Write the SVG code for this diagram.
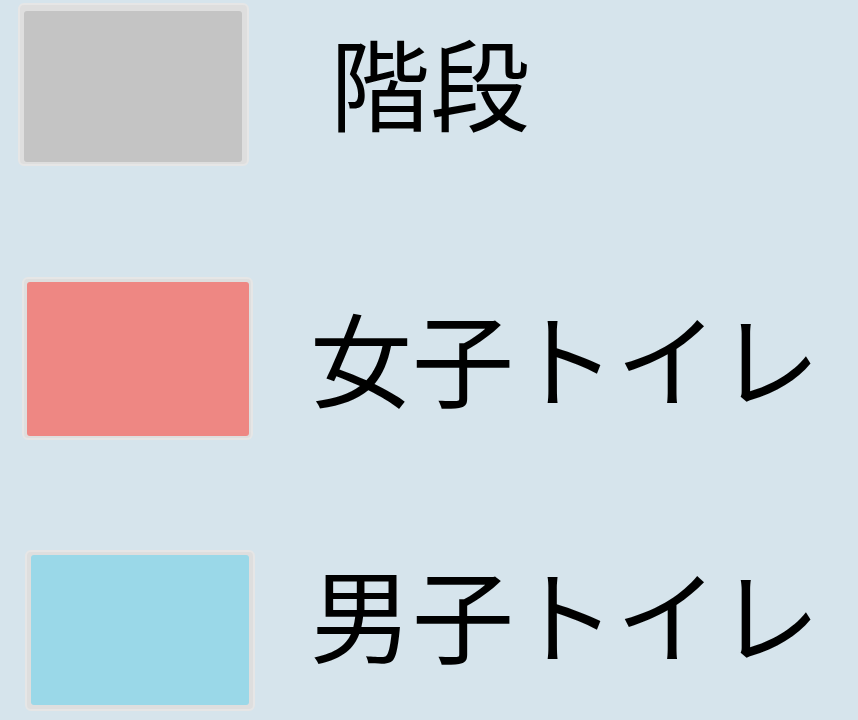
<svg xmlns="http://www.w3.org/2000/svg" width="858" height="720" viewBox="0 0 858 720">
<style>
.bg{fill:#d6e4ec}
.frame{fill:#dedede;stroke:#e6e6e6;stroke-width:2}
.lbl{font-family:"Noto Sans CJK JP","Noto Sans CJK SC",serif;fill:#000;dominant-baseline:central}
</style>
<rect class="bg" x="0" y="0" width="858" height="720"/>
<g id="stairs">
<rect class="frame" x="19" y="4" width="229" height="161" rx="5"/>
<rect x="24" y="11" width="218" height="151" rx="3" fill="#c4c4c4"/>
<text class="lbl" x="330" y="80" font-size="100">階段</text>
</g>
<g id="womens">
<rect class="frame" x="23" y="278" width="229" height="161" rx="5"/>
<rect x="27" y="282" width="222" height="154" rx="3" fill="#ee8783"/>
<text class="lbl" x="310" y="355" font-size="102">女子トイレ</text>
</g>
<g id="mens">
<rect class="frame" x="26" y="551" width="228" height="159" rx="5"/>
<rect x="31" y="555" width="218" height="150" rx="3" fill="#9ad8e8"/>
<text class="lbl" x="310" y="611" font-size="102">男子トイレ</text>
</g>
</svg>
